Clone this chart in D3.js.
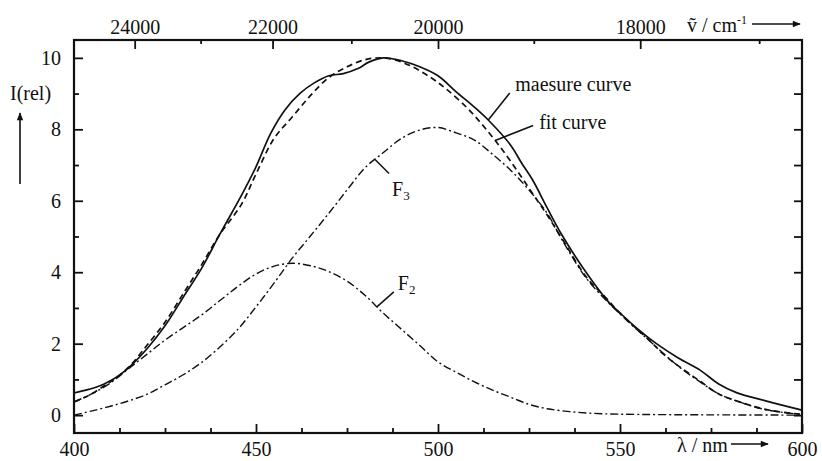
<!DOCTYPE html>
<html><head><meta charset="utf-8">
<script src="https://cdn.jsdelivr.net/npm/d3@7"></script>
<style>
html,body{margin:0;padding:0;background:#fff;}
svg text{font-family:"Liberation Serif","Times New Roman",Times,"DejaVu Serif",serif;fill:#111;}
</style></head><body>
<svg id="chart" width="822" height="461"></svg>
<script>
// ---- data ----
const measuredNm = [400,404,408,412.5,416,420,425,430,435,440,446,450,454,458,462,466,470,474,478,481,485,490,495,500,505,510,514,520,523,526,530,534,541,547,550,555,560,566,572,577,582,590,600];
const measuredI  = [0.62,0.72,0.86,1.12,1.42,1.85,2.5,3.3,4.1,5.05,6.15,6.95,7.88,8.55,9.0,9.3,9.5,9.56,9.7,9.88,10.0,9.92,9.75,9.5,9.05,8.62,8.24,7.55,7.05,6.58,5.8,5.05,3.95,3.15,2.86,2.4,2.0,1.6,1.26,0.88,0.63,0.4,0.14];

const fitNm = [400,404,408,412.5,416,420,425,430,435,440,446,450,455,460,465,470,475,480,484,488,493,498,502,508,512,516,520,526,530,534,541,546,550,558,562,566,572,577,582,590,600];
const fitI  = [0.37,0.55,0.8,1.12,1.45,1.95,2.6,3.4,4.2,5.05,5.9,6.75,7.75,8.35,8.95,9.45,9.75,9.95,10.0,9.95,9.75,9.45,9.15,8.6,8.15,7.65,7.1,6.2,5.6,4.95,3.83,3.3,2.85,2.1,1.7,1.38,0.95,0.6,0.4,0.16,0.02];

const f2Nm = [400,405,410,415,420,425,430,435,440,445,450,455,460,465,470,475,480,485,490,495,500,505,510,515,520,525,530,537,545,555,570,600];
const f2I  = [0.37,0.6,0.9,1.3,1.7,2.1,2.45,2.8,3.2,3.6,3.95,4.17,4.25,4.18,4.02,3.75,3.35,2.85,2.4,1.95,1.49,1.2,0.93,0.7,0.5,0.3,0.18,0.09,0.04,0.02,0.01,0.0];

const f3Nm = [400,405,410,415,420,425,430,435,440,445,450,455,460,465,470,475,480,485,490,495,500,505,510,515,520,525,530,534,541,550,558,566,572,577,582,590,600];
const f3I  = [0.0,0.12,0.25,0.4,0.58,0.85,1.13,1.47,1.9,2.4,3.03,3.7,4.4,5.02,5.65,6.3,6.93,7.35,7.75,7.98,8.05,7.9,7.7,7.3,6.85,6.3,5.65,4.92,3.8,2.83,2.09,1.37,0.93,0.6,0.4,0.15,0.02];

const nmMajor = [400,450,500,550,600];
const nmMinor = [412.5,425,437.5,462.5,475,487.5,512.5,525,537.5,562.5,575,587.5];
const iMajor  = [0,2,4,6,8,10];
const iMinor  = [1,3,5,7,9];
const nuMajor = [24000,22000,20000,18000];
const nuMinor = [23000,21000,19000,17000];

// ---- scales ----
const svg = d3.select("#chart");
const x = d3.scaleLinear().domain([400,600]).range([74,802]);
const y = d3.scaleLinear().domain([-0.5,10.5]).range([433,40]);
const FS = 20;

// ---- axes ----
function styleAxis(g){
  g.attr("font-family",null).attr("font-size",null);
  g.select(".domain").remove();
  g.selectAll(".tick line").attr("stroke","#111").attr("stroke-width",1.8);
  g.selectAll(".tick text").attr("font-size",FS).attr("fill","#111");
}
svg.append("g").attr("transform","translate(0,433)")
  .call(d3.axisBottom(x).tickValues(nmMajor).tickSizeInner(-9).tickSizeOuter(0).tickPadding(9).tickFormat(d3.format("d")))
  .call(styleAxis);
svg.append("g").attr("transform","translate(0,433)")
  .call(d3.axisBottom(x).tickValues(nmMinor).tickSizeInner(-5).tickSizeOuter(0).tickFormat(""))
  .call(styleAxis);
svg.append("g").attr("transform","translate(74,0)")
  .call(d3.axisLeft(y).tickValues(iMajor).tickSizeInner(-9).tickSizeOuter(0).tickPadding(13).tickFormat(d3.format("d")))
  .call(styleAxis);
svg.append("g").attr("transform","translate(74,0)")
  .call(d3.axisLeft(y).tickValues(iMinor).tickSizeInner(-5).tickSizeOuter(0).tickFormat(""))
  .call(styleAxis);
svg.append("g").attr("transform","translate(802,0)")
  .call(d3.axisRight(y).tickValues(iMajor.concat(iMinor)).tickSizeInner(-8).tickSizeOuter(0).tickFormat(""))
  .call(styleAxis);
svg.append("g").attr("transform","translate(0,40)")
  .call(d3.axisTop(x).tickValues(nuMajor.map(v=>1e7/v)).tickSizeInner(-9).tickSizeOuter(0).tickPadding(6)
        .tickFormat(d=>d3.format("d")(Math.round(1e7/d/1000)*1000)))
  .call(styleAxis);
svg.append("g").attr("transform","translate(0,40)")
  .call(d3.axisTop(x).tickValues(nuMinor.map(v=>1e7/v)).tickSizeInner(-4).tickSizeOuter(0).tickFormat(""))
  .call(styleAxis);

// frame
svg.append("rect").attr("x",74).attr("y",40).attr("width",728).attr("height",393)
  .attr("fill","none").attr("stroke","#111").attr("stroke-width",2.2);

// ---- curves ----
const line = d3.line().x(d=>x(d[0])).y(d=>y(d[1])).curve(d3.curveCatmullRom.alpha(0.5));
const series = [
  {nm:measuredNm, I:measuredI, dash:null, w:1.7},
  {nm:fitNm, I:fitI, dash:"6,4", w:1.7},
  {nm:f3Nm, I:f3I, dash:"8,3,2,3", w:1.4},
  {nm:f2Nm, I:f2I, dash:"8,3,2,3", w:1.4}
];
series.forEach(s=>{
  svg.append("path").datum(d3.zip(s.nm,s.I)).attr("d",line)
    .attr("fill","none").attr("stroke","#111").attr("stroke-width",s.w)
    .attr("stroke-dasharray",s.dash);
});

function interp(nm, I, v){
  const i = Math.max(1, Math.min(nm.length-1, d3.bisectLeft(nm, v)));
  const t = (v-nm[i-1])/(nm[i]-nm[i-1]);
  return I[i-1] + t*(I[i]-I[i-1]);
}

// ---- annotations ----
const notes = [
  {nm:measuredNm, I:measuredI, at:513.8, dx:21.5, dy:-27, tx:27, ty:-29, text:"maesure curve"},
  {nm:fitNm, I:fitI, at:515.7, dx:38, dy:-15, tx:44, ty:-11, text:"fit curve"},
  {nm:f3Nm, I:f3I, at:482.7, dx:14, dy:14, tx:17, ty:37, text:"F", sub:"3"},
  {nm:f2Nm, I:f2I, at:483.2, dx:17, dy:-15, tx:21, ty:-17, text:"F", sub:"2"}
];
notes.forEach(n=>{
  const px = x(n.at), py = y(interp(n.nm,n.I,n.at));
  svg.append("line").attr("x1",px).attr("y1",py).attr("x2",px+n.dx).attr("y2",py+n.dy)
    .attr("stroke","#111").attr("stroke-width",1.5);
  const t = svg.append("text").attr("x",px+n.tx).attr("y",py+n.ty).attr("font-size",FS).text(n.text);
  if(n.sub) t.append("tspan").attr("font-size",13).attr("dy",4).text(n.sub);
});

// ---- axis titles ----
const defs = svg.append("defs");
defs.append("marker").attr("id","ah").attr("viewBox","0 0 10 10").attr("refX",9).attr("refY",5)
  .attr("markerWidth",10).attr("markerHeight",8).attr("markerUnits","userSpaceOnUse").attr("orient","auto")
  .append("path").attr("d","M0,1 L10,5 L0,9 Z").attr("fill","#111");

svg.append("text").attr("x",10).attr("y",100).attr("font-size",FS).text("I(rel)");
svg.append("line").attr("x1",20).attr("y1",184).attr("x2",20).attr("y2",113)
  .attr("stroke","#111").attr("stroke-width",1.6).attr("marker-end","url(#ah)");

const tnu = svg.append("text").attr("x",687).attr("y",32).attr("font-size",FS);
tnu.append("tspan").text("ṽ / cm");
tnu.append("tspan").attr("font-size",12).attr("dy",-8).text("-1");
svg.append("line").attr("x1",752).attr("y1",24).attr("x2",800).attr("y2",24)
  .attr("stroke","#111").attr("stroke-width",1.4).attr("marker-end","url(#ah)");

svg.append("text").attr("x",677).attr("y",452).attr("font-size",FS).text("λ / nm");
svg.append("line").attr("x1",731).attr("y1",444).attr("x2",768).attr("y2",444)
  .attr("stroke","#111").attr("stroke-width",1.4).attr("marker-end","url(#ah)");
</script>
</body></html>
